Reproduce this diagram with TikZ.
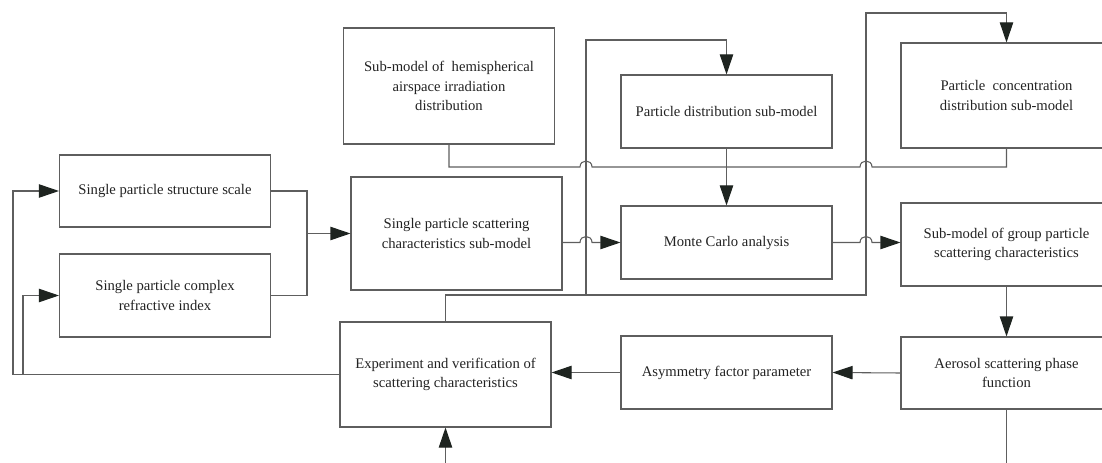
\documentclass[tikz,border=0pt]{standalone}
\usepackage{fontspec}
\setmainfont{Liberation Serif}
\usetikzlibrary{arrows.meta}
\definecolor{linegray}{HTML}{5E5E5E}
\definecolor{tipdark}{HTML}{1E2420}
\definecolor{textdark}{HTML}{222222}
\begin{document}
\begin{tikzpicture}[x=0.75pt,y=-0.75pt,
  box/.style={draw=linegray, line width=0.8pt, rectangle,
    minimum width=158.25pt, minimum height={#1*0.75pt},
    align=center, text=textdark, inner sep=2pt,
    font=\fontsize{11}{14.5}\selectfont},
  wire/.style={draw=linegray, line width=0.8pt},
  arr/.style={wire, -{Triangle[length=15pt,width=10pt,color=tipdark]}},
]
\clip (0,0) rectangle (1102,463);

% blocks
\node[box=72]  (scale)  at (165,191)    {Single particle structure scale};
\node[box=83]  (refr)   at (165,295.5)  {Single particle complex\\refractive index};
\node[box=113] (single) at (456.5,233.5){Single particle scattering\\characteristics sub-model};
\node[box=116] (hemi)   at (449,86)     {Sub-model of \ hemispherical\\airspace irradiation\\distribution};
\node[box=73]  (pdist)  at (726.5,111.5){Particle distribution sub-model};
\node[box=73]  (mc)     at (726.5,242.5){Monte Carlo analysis};
\node[box=105] (conc)   at (1006.5,95.5){Particle \ concentration\\distribution sub-model};
\node[box=83]  (group)  at (1006.5,244.5){Sub-model of group particle\\scattering characteristics};
\node[box=72]  (phase)  at (1006.5,373) {Aerosol scattering phase\\function};
\node[box=73]  (asym)   at (726.5,372.5){Asymmetry factor parameter};
\node[box=105] (exp)    at (445.5,374.5){Experiment and verification of\\scattering characteristics};

% routing points
\coordinate (merge) at (307,233.5);
\coordinate (fbA)   at (13,0);
\coordinate (fbB)   at (23,0);
\coordinate (busL)  at (586,295);
\coordinate (busR)  at (866,295);
\coordinate (topL)  at (586,40);
\coordinate (topR)  at (866,13);
\coordinate (j1)    at (586,242.5);
\coordinate (j2)    at (866,242.5);
\coordinate (j3)    at (586,167);
\coordinate (j4)    at (866,167);
\coordinate (inE)   at (445.5,463);
\coordinate (outP)  at (1006.5,463);

% single-particle inputs merge into the scattering sub-model
\draw[wire] (scale.east) -| (merge) |- (refr.east);
\draw[arr] (merge) -- (single.west);

% feedback from the experiment back to the inputs
\draw[arr] (exp.west) -- (exp.west -| fbA) |- (scale.west);
\draw[arr] (exp.west -| fbB) |- (refr.west);

% main chain with line hops
\draw[arr] (mc.west -| single.east) -- ([xshift=-4.5pt]j1)
  .. controls +(0,-8) and +(0,-8) .. ([xshift=4.5pt]j1) -- (mc.west);
\draw[arr] (mc.east) -- ([xshift=-4.5pt]j2)
  .. controls +(0,-8) and +(0,-8) .. ([xshift=4.5pt]j2) -- (group.west |- mc.east);

% irradiation bus to the concentration sub-model
\draw[wire] (hemi.south) |- ([xshift=-4.5pt]j3)
  .. controls +(0,-8) and +(0,-8) .. ([xshift=4.5pt]j3) -- ([xshift=-4.5pt]j4)
  .. controls +(0,-8) and +(0,-8) .. ([xshift=4.5pt]j4) -| (conc.south);

\draw[arr] (pdist.south) -- (mc.north);

% upper feedback from the experiment
\draw[arr] (exp.north) |- (busR) -- (topR) -| (conc.north);
\draw[arr] (busL) -- (topL) -| (pdist.north);

% right column and return path
\draw[arr] (group.south) -- (phase.north);
\draw[arr] (phase.west) -- (asym.east);
\draw[arr] (asym.west) -- (exp.east |- asym.west);
\draw[wire] (phase.south) -- (outP);
\draw[arr] (inE) -- (exp.south);
\end{tikzpicture}
\end{document}
